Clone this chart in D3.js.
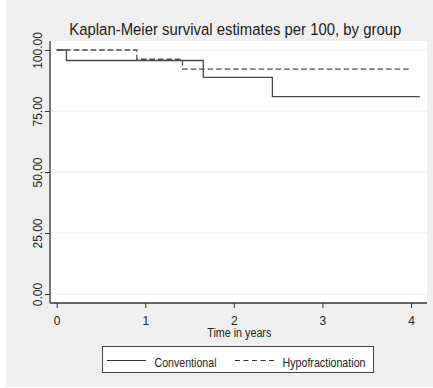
<!DOCTYPE html>
<html>
<head>
<meta charset="utf-8">
<script src="https://cdn.jsdelivr.net/npm/d3@7"></script>
<style>
  body { margin: 0; background: #fff; }
  text { font-family: "Liberation Sans", Arial, sans-serif; fill: #222; }
</style>
</head>
<body>
<svg></svg>
<script>
// step data, times in years and survival per 100
const convTimes = [0, 0.11, 1.655, 2.435, 4.1];
const convSurv = [100, 95.7, 88.8, 80.9, 80.9];
const hypoTimes = [0, 0.905, 1.42, 4.0];
const hypoSurv = [100, 96.2, 92.2, 92.2];
const xTicks = [0, 1, 2, 3, 4];
const yTicks = [0, 25, 50, 75, 100];
const legendLabels = ['Conventional', 'Hypofractionation'];

const width = 433, height = 388;
const plot = {left: 50, right: 427, top: 41, bottom: 303};

const svg = d3.select('svg')
  .attr('width', width)
  .attr('height', height);

svg.append('rect')
  .attr('x', 6).attr('y', 0)
  .attr('width', width - 6).attr('height', 387)
  .attr('fill', '#efefef');

svg.append('rect')
  .attr('x', plot.left).attr('y', plot.top)
  .attr('width', plot.right - plot.left).attr('height', plot.bottom - plot.top)
  .attr('fill', '#fff');

const xScale = d3.scaleLinear().domain([0, 4]).range([56.7, 411]);
const yScale = d3.scaleLinear().domain([0, 100]).range([294, 50]);

// grid
svg.append('g').selectAll('line').data(yTicks)
  .enter().append('line')
  .attr('x1', plot.left).attr('x2', plot.right)
  .attr('y1', d => yScale(d)).attr('y2', d => yScale(d))
  .attr('stroke', '#ececec').attr('stroke-width', 1);

// y axis
const yAxis = svg.append('g')
  .attr('transform', `translate(${plot.left},0)`)
  .call(d3.axisLeft(yScale).tickValues(yTicks).tickFormat(d3.format('.2f')).tickSize(5));
yAxis.select('.domain').remove();
yAxis.selectAll('line').attr('stroke', '#333');
yAxis.selectAll('text')
  .attr('font-size', 12)
  .attr('x', 0).attr('dy', null).attr('y', -8)
  .attr('text-anchor', 'middle')
  .attr('transform', 'rotate(-90)')
  .attr('fill', '#222');

svg.append('line')
  .attr('x1', plot.left).attr('x2', plot.left)
  .attr('y1', plot.top).attr('y2', plot.bottom)
  .attr('stroke', '#333').attr('stroke-width', 1.3);

// x axis
const xAxis = svg.append('g')
  .attr('transform', `translate(0,${plot.bottom})`)
  .call(d3.axisBottom(xScale).tickValues(xTicks).tickFormat(d3.format('d')).tickSize(5));
xAxis.select('.domain').remove();
xAxis.selectAll('line').attr('stroke', '#333');
xAxis.selectAll('text')
  .attr('font-size', 12).attr('fill', '#222')
  .attr('dy', null).attr('y', 22);

svg.append('line')
  .attr('x1', plot.left).attr('x2', plot.right)
  .attr('y1', plot.bottom).attr('y2', plot.bottom)
  .attr('stroke', '#333').attr('stroke-width', 1.3);

svg.append('text')
  .attr('x', 207.3).attr('y', 337.3)
  .attr('font-size', 12)
  .attr('textLength', 64).attr('lengthAdjust', 'spacingAndGlyphs')
  .text('Time in years');

// title
svg.append('text')
  .attr('x', 69.3).attr('y', 34.5)
  .attr('font-size', 16.7)
  .attr('textLength', 332).attr('lengthAdjust', 'spacingAndGlyphs')
  .text('Kaplan-Meier survival estimates per 100, by group');

// survival curves
const stepLine = d3.line()
  .x(d => xScale(d[0]))
  .y(d => yScale(d[1]))
  .curve(d3.curveStepAfter);

svg.append('path')
  .datum(convTimes.map((t, i) => [t, convSurv[i]]))
  .attr('d', stepLine)
  .attr('fill', 'none')
  .attr('stroke', '#4a4a4a')
  .attr('stroke-width', 1.3);

svg.append('path')
  .datum(hypoTimes.map((t, i) => [t, hypoSurv[i]]))
  .attr('d', stepLine)
  .attr('fill', 'none')
  .attr('stroke', '#4a4a4a')
  .attr('stroke-width', 1.3)
  .attr('stroke-dasharray', '5.5,3');

// legend
const legend = svg.append('g');
legend.append('rect')
  .attr('x', 102.5).attr('y', 346.5)
  .attr('width', 271).attr('height', 26)
  .attr('fill', '#fff')
  .attr('stroke', '#444');

const legendItems = [
  {label: legendLabels[0], x0: 107, len: 62, dash: null},
  {label: legendLabels[1], x0: 235, len: 83, dash: '5,3.5'}
];
legendItems.forEach(it => {
  legend.append('line')
    .attr('x1', it.x0).attr('x2', it.x0 + 39)
    .attr('y1', 360.5).attr('y2', 360.5)
    .attr('stroke', '#333').attr('stroke-width', 1.2)
    .attr('stroke-dasharray', it.dash);
  legend.append('text')
    .attr('x', it.x0 + 47.5).attr('y', 366.5)
    .attr('font-size', 12)
    .attr('textLength', it.len).attr('lengthAdjust', 'spacingAndGlyphs')
    .text(it.label);
});
</script>
</body>
</html>
